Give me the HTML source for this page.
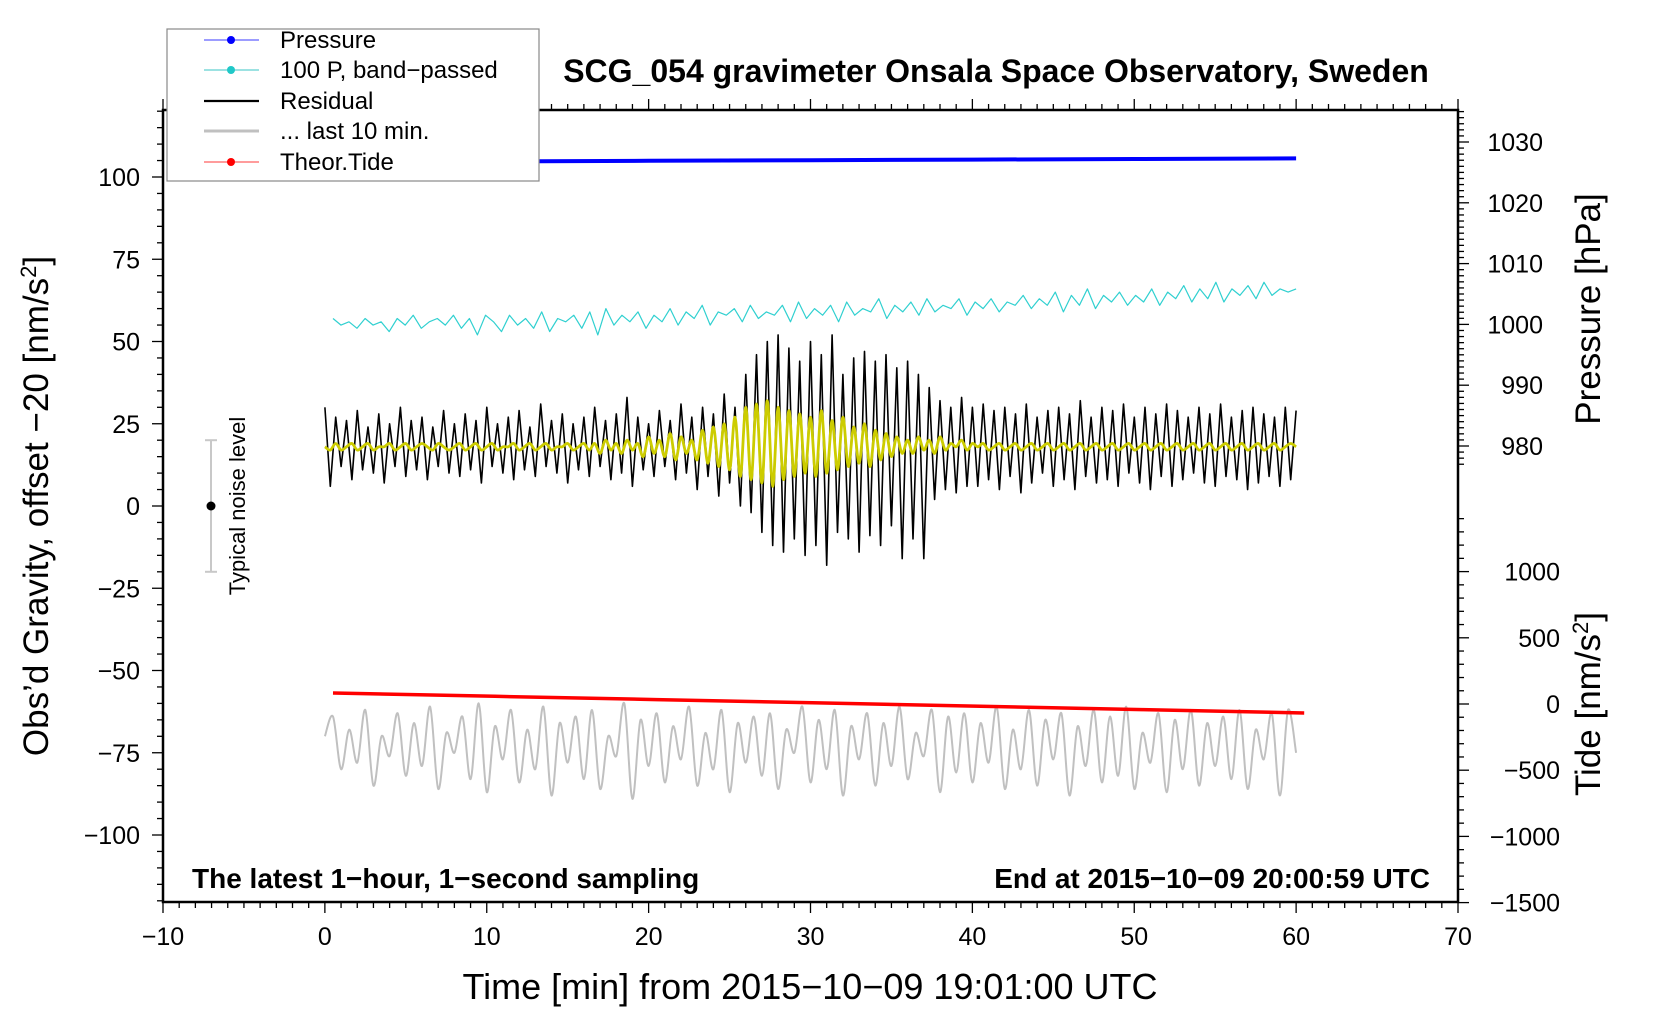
<!DOCTYPE html>
<html><head><meta charset="utf-8"><style>
html,body{margin:0;padding:0;background:#fff;}
svg{display:block;font-family:"Liberation Sans",Arial,sans-serif;}
</style></head><body>
<svg id="chart" width="1660" height="1020" viewBox="0 0 1660 1020">
<g id="axes"></g>
<g id="series"></g>
<g id="labels"></g>
</svg>
<script>
// ---- data ----
const resid = [30,6,27,12,26,8,29,11,24,10,28,7,25,12,30,9,26,11,27,8,24,12,29,10,25,
9,28,11,26,7,30,12,25,10,27,8,29,11,24,9,31,12,26,10,28,7,25,11,27,
9,30,12,26,8,28,10,33,6,27,11,25,9,29,12,26,8,31,10,27,5,30,9,28,
3,34,7,30,0,40,-2,46,-8,50,-12,52,
-14,48,-10,44,-15,50,-12,46,-18,52,-8,40,
-10,45,-14,47,-9,44,-12,46,-6,42,-16,44,
-10,40,-16,36,2,32,5,30,4,33,6,30,
6,31,8,29,5,30,9,28,4,31,7,27,10,29,6,30,8,28,5,32,9,27,7,30,
8,29,6,31,10,27,7,30,5,28,9,31,6,29,8,27,10,30,7,28,6,31,9,27,8,29,5,30,7,28,9,27,6,30,8,29];
const yellow = [18,17,19,17,18,19,17,18,19,17,18,18,19,17,18,19,17,18,19,18,17,19,18,17,18,
19,17,18,19,17,18,19,17,18,18,19,17,18,19,17,18,19,17,18,18,19,17,18,19,
17,19,16,20,17,19,16,20,17,19,15,21,16,20,15,22,14,21,16,20,14,23,13,24,
12,25,11,27,9,30,8,31,7,32,6,30,
8,29,9,28,10,27,9,29,10,26,11,27,
12,24,13,25,12,23,14,22,15,21,16,20,
16,21,17,20,16,21,17,19,18,20,17,19,
18,19,17,18,19,17,18,19,17,18,19,17,18,19,17,18,19,17,18,19,17,18,19,17,
18,19,17,18,19,17,18,19,17,18,19,17,18,19,17,18,19,17,18,19,17,18,19,17,18,19,17,18,19,17,18,19,17,18,19,18];
const cyan = [57,55,56,54,57,55,56,53,57,55,58,54,56,57,55,58,54,57,52,58,
56,53,58,55,57,54,59,53,57,56,58,54,59,52,60,55,58,56,59,54,
58,56,60,55,59,57,61,55,59,58,60,56,61,57,59,58,61,56,62,57,
60,58,61,56,62,58,60,59,63,57,61,59,62,58,63,59,61,60,63,58,
62,60,63,59,62,61,64,60,63,61,65,59,64,61,66,60,64,62,65,61,
64,62,66,61,65,63,67,62,66,63,68,62,66,64,67,63,68,64,66,65,66];
const gray = [-70,-64,-80,-68,-78,-62,-85,-70,-76,-63,-82,-66,-79,-61,-86,-69,-75,-64,-83,-60,
-87,-67,-77,-62,-84,-68,-80,-61,-88,-66,-78,-64,-83,-62,-86,-70,-76,-60,-89,-65,
-79,-63,-84,-67,-77,-61,-85,-69,-80,-62,-87,-66,-78,-64,-82,-63,-86,-68,-75,-61,
-84,-65,-80,-62,-88,-67,-77,-63,-85,-66,-79,-61,-83,-69,-76,-62,-87,-64,-81,-63,
-84,-66,-78,-61,-86,-68,-80,-62,-85,-65,-77,-63,-88,-67,-79,-62,-84,-64,-82,-61,
-86,-69,-78,-63,-87,-65,-80,-62,-85,-66,-79,-64,-83,-62,-86,-68,-77,-63,-88,-62,-75];
const pressTimes = [0.3,10,20,30,40,50,60];
const pressure = [1026.6,1026.8,1026.9,1027.0,1027.1,1027.2,1027.3];
const tideTimes = [0.5,10.5,20.5,30.5,40.5,50.5,60.5];
const tide = [83,58,33,8,-17,-42,-68];
const xTicks = [-10,0,10,20,30,40,50,60,70];
const yTicks = [-100,-75,-50,-25,0,25,50,75,100];
const pTicks = [980,990,1000,1010,1020,1030];
const tTicks = [-1500,-1000,-500,0,500,1000];

// ---- scales ----
const L=163,R=1458,T=110,B=902;
const X = t => L + (t+10)/80*(R-L);
const Y = v => 506 - v*3.29;
const P = p => 446 - (p-980)*6.08;
const TD = v => 704 - v*0.1324;
const NS='http://www.w3.org/2000/svg';
function mk(tag, attrs, parent){const e=document.createElementNS(NS,tag);for(const k in attrs)e.setAttribute(k,attrs[k]);parent.appendChild(e);return e;}
const ax=document.getElementById('axes'), se=document.getElementById('series'), lb=document.getElementById('labels');

const frame=mk('rect',{x:L,y:T,width:R-L,height:B-T,fill:'none',stroke:'#000','stroke-width':2.5},ax);


for(let m=-10;m<=70;m++){
  const x=X(m), big=m%10===0;
  mk('line',{x1:x,y1:B,x2:x,y2:B+(big?11:6),stroke:'#000','stroke-width':1.3},ax);
  mk('line',{x1:x,y1:T,x2:x,y2:T-(big?11:6),stroke:'#000','stroke-width':1.3},ax);
}
xTicks.forEach(v=>{const t=mk('text',{x:X(v),y:945,'font-size':25,'text-anchor':'middle'},ax);t.textContent=String(v).replace('-','\u2212');

});
for(let v=-120;v<=120;v+=5){const y=Y(v),big=v%25===0;mk('line',{x1:L,y1:y,x2:L-(big?11:6),y2:y,stroke:'#000','stroke-width':1.3},ax);}
yTicks.forEach(v=>{const t=mk('text',{x:140,y:Y(v)+9,'font-size':25,'text-anchor':'end'},ax);t.textContent=String(v).replace('-','\u2212');

});
for(let p=974;p<=1036;p++){const y=P(p);if(y<T||y>470)continue;const big=p%10===0;mk('line',{x1:R,y1:y,x2:R+(big?11:6),y2:y,stroke:'#000','stroke-width':1.3},ax);}
pTicks.forEach(v=>{const t=mk('text',{x:1543,y:P(v)+9,'font-size':25,'text-anchor':'end'},ax);t.textContent=v;

});
for(let v=-1500;v<=1400;v+=100){const y=TD(v);if(y<490)continue;const big=v%500===0;mk('line',{x1:R,y1:y,x2:R+(big?11:6),y2:y,stroke:'#000','stroke-width':1.3},ax);}
tTicks.forEach(v=>{const t=mk('text',{x:1560,y:TD(v)+9,'font-size':25,'text-anchor':'end'},ax);t.textContent=String(v).replace('-','\u2212');

});

function path(xs,ys,fy,color,w,name,smooth){
  const pts=xs.map((x,i)=>[X(x),fy(ys[i])]);
  let d='M'+pts[0][0].toFixed(1)+' '+pts[0][1].toFixed(1);
  for(let i=1;i<pts.length;i++){
    if(smooth){
      const p0=pts[Math.max(0,i-2)],p1=pts[i-1],p2=pts[i],p3=pts[Math.min(pts.length-1,i+1)];
      const c1x=p1[0]+(p2[0]-p0[0])/6,c1y=p1[1]+(p2[1]-p0[1])/6,c2x=p2[0]-(p3[0]-p1[0])/6,c2y=p2[1]-(p3[1]-p1[1])/6;
      d+='C'+c1x.toFixed(1)+' '+c1y.toFixed(1)+' '+c2x.toFixed(1)+' '+c2y.toFixed(1)+' '+p2[0].toFixed(1)+' '+p2[1].toFixed(1);
    } else d+='L'+pts[i][0].toFixed(1)+' '+pts[i][1].toFixed(1);
  }
  const p=mk('path',{d:d,fill:'none',stroke:color,'stroke-width':w,'stroke-linejoin':'round'},se);
  
  
  return p;
}
const tr=resid.map((_,i)=>i/3), ty=yellow.map((_,i)=>i/3), tc=cyan.map((_,i)=>0.5+i*0.5*59.5/60), tg=gray.map((_,i)=>i*0.5);
path(tc,cyan,Y,'#30d0d0',1.2,'bandpassed-pressure-line',false);
path(pressTimes,pressure,P,'#0000ff',4,'pressure-line',false);
path(tr,resid,Y,'#000',1.6,'residual-line',false);
path(ty,yellow,Y,'#cccc00',2.8,'residual-smoothed-line',true);
path(tg,gray,Y,'#c0c0c0',2,'last-10-min-line',true);
path(tideTimes,tide,TD,'#ff0000',3.5,'theoretical-tide-line',false);

const nb=mk('g',{},lb);
mk('line',{x1:211,y1:Y(20),x2:211,y2:Y(-20),stroke:'#c8c8c8','stroke-width':2},nb);
mk('line',{x1:205,y1:Y(20),x2:217,y2:Y(20),stroke:'#c8c8c8','stroke-width':2},nb);
mk('line',{x1:205,y1:Y(-20),x2:217,y2:Y(-20),stroke:'#c8c8c8','stroke-width':2},nb);
mk('circle',{cx:211,cy:Y(0),r:4.5,fill:'#000'},nb);
</script>
<svg style="position:absolute;left:0;top:0" width="1660" height="1020">
<text x="245" y="506" font-size="22" text-anchor="middle" transform="rotate(-90 245 506)" font-family="Liberation Sans, sans-serif">Typical noise level</text>
<text x="996" y="82" font-size="32" font-weight="bold" text-anchor="middle" font-family="Liberation Sans, sans-serif">SCG_054 gravimeter Onsala Space Observatory, Sweden</text>
<text x="192" y="888" font-size="28" font-weight="bold" font-family="Liberation Sans, sans-serif">The latest 1−hour, 1−second sampling</text>
<text x="1430" y="888" font-size="28" font-weight="bold" text-anchor="end" font-family="Liberation Sans, sans-serif">End at 2015−10−09 20:00:59 UTC</text>
<text x="810" y="999" font-size="36" text-anchor="middle" font-family="Liberation Sans, sans-serif">Time [min] from 2015−10−09 19:01:00 UTC</text>
<text x="48" y="506" font-size="35" text-anchor="middle" transform="rotate(-90 48 506)" font-family="Liberation Sans, sans-serif">Obs’d Gravity, offset −20 [nm/s<tspan baseline-shift="super" font-size="22">2</tspan>]</text>
<text x="1600" y="309" font-size="35" text-anchor="middle" transform="rotate(-90 1600 309)" font-family="Liberation Sans, sans-serif">Pressure [hPa]</text>
<text x="1600" y="704" font-size="35" text-anchor="middle" transform="rotate(-90 1600 704)" font-family="Liberation Sans, sans-serif">Tide [nm/s<tspan baseline-shift="super" font-size="22">2</tspan>]</text>
<g font-family="Liberation Sans, sans-serif" font-size="24">
<rect x="167" y="29" width="372" height="152" fill="#fff" stroke="#888" stroke-width="1.2"/>
<g><line x1="204" y1="40" x2="259" y2="40" stroke="#6060ff" stroke-width="1.2"/><circle cx="231" cy="40" r="4" fill="#0000ff"/><text x="280" y="48">Pressure</text></g>
<g><line x1="204" y1="70" x2="259" y2="70" stroke="#60d0d0" stroke-width="1.2"/><circle cx="231" cy="70" r="4" fill="#20c8c8"/><text x="280" y="78">100 P, band−passed</text></g>
<g><line x1="204" y1="101" x2="259" y2="101" stroke="#000" stroke-width="2.2"/><text x="280" y="109">Residual</text></g>
<g><line x1="204" y1="131" x2="259" y2="131" stroke="#c0c0c0" stroke-width="3"/><text x="280" y="139">... last 10 min.</text></g>
<g><line x1="204" y1="162" x2="259" y2="162" stroke="#ff6060" stroke-width="1.2"/><circle cx="231" cy="162" r="4" fill="#ff0000"/><text x="280" y="170">Theor.Tide</text></g>
</g>
</svg>
</body></html>
